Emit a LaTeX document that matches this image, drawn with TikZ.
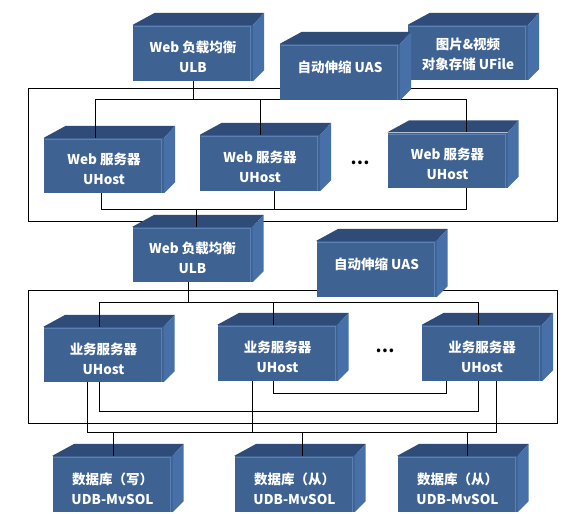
\documentclass[tikz,border=0pt]{standalone}
\usepackage{fontspec}
\setmainfont{Noto Sans CJK SC}
\definecolor{cfront}{HTML}{3E6393}
\definecolor{ctop}{HTML}{2F4C78}
\definecolor{cside}{HTML}{4870A8}
\definecolor{chl}{HTML}{5A80B6}
\tikzset{
  frontface/.style={fill=cfront, draw=none, inner sep=0pt},
  boxtext/.style={text=white, font=\fontsize{13.5}{20}\selectfont\bfseries, align=center, inner sep=0pt},
  dotstext/.style={text=black, font=\fontsize{17}{17}\selectfont\bfseries, inner sep=0pt},
  conn/.style={draw=black, line width=0.9pt},
  frame/.style={draw=black, line width=0.9pt},
}
% name, cx, cy, w, h, text, text shift
\newcommand{\mycube}[7]{%
  \node[frontface, minimum width=#4pt, minimum height=#5pt] (#1) at (#2,#3) {};
  \fill[ctop] (#1.north west) -- ++(22,-12) -- ([shift={(11,-12)}]#1.north east) -- (#1.north east) -- cycle;
  \fill[cside] (#1.north east) -- ++(11,-12) -- ([shift={(11,-11)}]#1.south east) -- (#1.south east) -- cycle;
  \draw[chl, line width=0.6pt] ([shift={(1,1.5)}]#1.north west) -- ([shift={(-2.5,1.5)}]#1.north east) -- ([shift={(-2.5,0)}]#1.south east);
  \node[boxtext] (#1-t) at ([yshift=#7]#1.center) {#6};
}
\begin{document}
\begin{tikzpicture}[x=1pt,y=-1pt]
\useasboundingbox (0,0) rectangle (566,514);
\fill[white] (0,0) rectangle (566,514);

% frames
\draw[frame] (28,88) rectangle (557,221);
\draw[frame] (28,290) rectangle (557,423);

% top row
\mycube{ufile}{468}{52.5}{120}{55}{图片\&视频\\对象存储 UFile}{-2pt}
\mycube{ulb1}{193}{53}{120}{56}{Web 负载均衡\\ULB}{-3.5pt}

% web servers
\mycube{web1}{104}{165.5}{120}{55}{Web 服务器\\UHost}{-3.5pt}
\mycube{web2}{260}{163}{120}{56}{Web 服务器\\UHost}{-3.5pt}
\mycube{web3}{447.5}{160}{120}{55}{Web 服务器\\UHost}{-3.5pt}
\node[dotstext] (dots1) at (360,163) {…};

% middle
\mycube{ulb2}{192.5}{254.5}{120}{55}{Web 负载均衡\\ULB}{-3.5pt}

% business servers
\mycube{biz1}{103.5}{354.5}{120}{55}{业务服务器\\UHost}{-4pt}
\mycube{biz2}{277.5}{353}{120}{56}{业务服务器\\UHost}{-4pt}
\mycube{biz3}{482}{353}{120}{56}{业务服务器\\UHost}{-4pt}
\node[dotstext] (dots2) at (385,351) {…};

% databases
\mycube{db1}{112.5}{484}{120}{56}{数据库（写）\\UDB-MvSOL}{-5pt}
\mycube{db2}{294.5}{484}{120}{56}{数据库（从）\\UDB-MvSOL}{-5pt}
\mycube{db3}{457.5}{484}{120}{56}{数据库（从）\\UDB-MvSOL}{-5pt}

% ---- connectors tier 1
\coordinate (b1L) at (95,99);
\coordinate (b1R) at (466,99);
\draw[conn] (ulb1.south) -- (ulb1.south |- b1L);
\draw[conn] (b1L |- web1.north) -- (b1L) -- (b1R) -- (b1R |- web3.north);
\draw[conn] (web2.north) -- (web2.north |- b1L);
\coordinate (c1L) at (101,209);
\coordinate (c1M) at (274,209);
\coordinate (c1R) at (466,209);
\coordinate (c1U) at (196,209);
\draw[conn] (c1L |- web1.south) -- (c1L) -- (c1R) -- (c1R |- web3.south);
\draw[conn] (c1M |- web2.south) -- (c1M);
\draw[conn] (c1U) -- (c1U |- ulb2.north);

% ---- connectors tier 2
\coordinate (u2d) at (188,302);
\coordinate (b2L) at (99,302);
\coordinate (b2M) at (273,302);
\coordinate (b2R) at (478,302);
\draw[conn] (u2d |- ulb2.south) -- (u2d);
\draw[conn] (b2L |- biz1.north) -- (b2L) -- (b2R) -- (b2R |- biz3.north);
\draw[conn] (b2M) -- (b2M |- biz2.north);
\coordinate (l1a) at (273,393);
\coordinate (l1b) at (446,393);
\draw[conn] (l1a |- biz2.south) -- (l1a) -- (l1b) -- (l1b |- biz3.south);
\coordinate (l2a) at (99,411);
\coordinate (l2b) at (478,411);
\draw[conn] (l2a |- biz1.south) -- (l2a) -- (l2b) -- (l2b |- biz3.south);
\coordinate (d0a) at (87,432);
\coordinate (d0b) at (496,432);
\coordinate (d0m) at (252,432);
\draw[conn] (d0a |- biz1.south) -- (d0a) -- (d0b) -- (d0b |- biz3.south);
\draw[conn] (d0m |- biz2.south) -- (d0m);
\coordinate (dd1) at (113,432);
\coordinate (dd2) at (302,432);
\coordinate (dd3) at (467,432);
\draw[conn] (dd1) -- (dd1 |- db1.north);
\draw[conn] (dd2) -- (dd2 |- db2.north);
\draw[conn] (dd3) -- (dd3 |- db3.north);

% auto scaling boxes on top
\mycube{uas1}{340}{72}{120}{56}{自动伸缩 UAS}{5pt}
\mycube{uas2}{376.5}{269}{120}{56}{自动伸缩 UAS}{5pt}
\end{tikzpicture}
\end{document}
